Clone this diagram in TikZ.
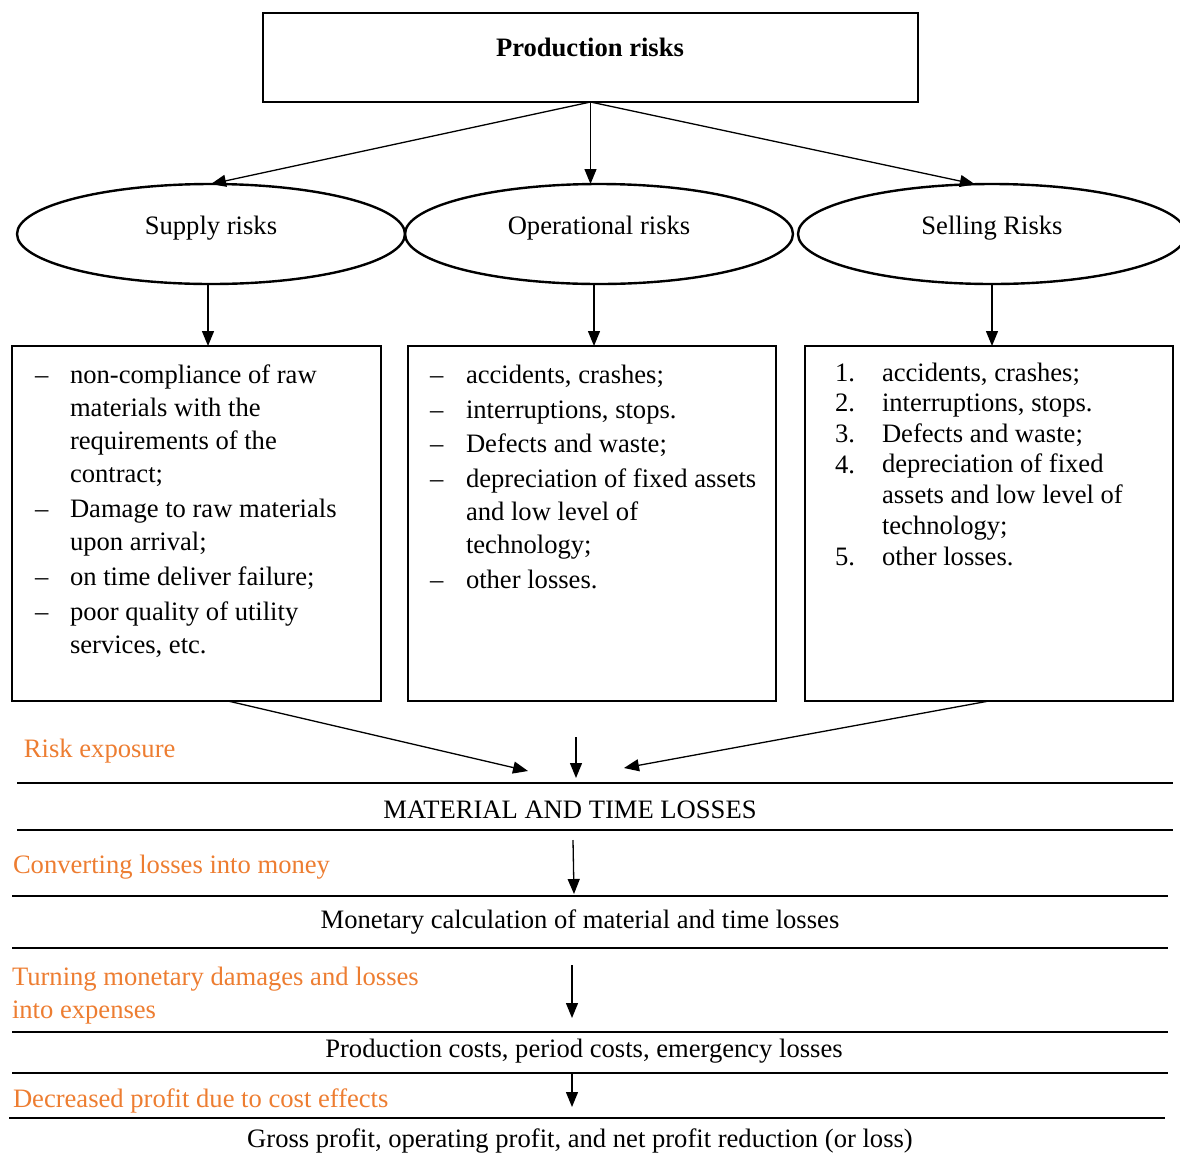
\documentclass[tikz,border=0pt]{standalone}
\usepackage{fontspec}
\setmainfont{Liberation Serif}
\usetikzlibrary{arrows.meta,shapes.geometric}
\definecolor{orng}{RGB}{237,125,49}
\begin{document}
\begin{tikzpicture}[x=0.5pt,y=-0.5pt,
  every node/.style={font=\fontsize{13.3}{16.5}\selectfont, inner sep=0pt, outer sep=0pt},
  txt/.style={anchor=base west, align=left},
  ctr/.style={anchor=base},
  orl/.style={anchor=base west, align=left, text=orng},
  boxx/.style={draw, line width=0.7pt, minimum height=177.5pt},
  ell/.style={draw, ellipse, line width=1.2pt, minimum width=194pt, minimum height=50pt},
  arr/.style={line width=0.65pt, -{Triangle[length=7.5pt,width=6pt]}},
  sepl/.style={line width=1pt}]
\useasboundingbox (0,0) rectangle (1180,1158);

% top box
\node[draw, line width=0.7pt, minimum width=327.5pt, minimum height=44.5pt] (prod) at (590.5,57.5) {};
\node[ctr] (prodt) at (590,56) {\textbf{Production risks}};

% ellipses
\node[ell] (sup) at (211,234) {};
\node[ell] (op) at (599,234) {};
\node[ell] (sel) at (992,234) {};
\node[ctr] (supt) at (211,234) {Supply risks};
\node[ctr] (opt) at (599,234) {Operational risks};
\node[ctr] (selt) at (992,234) {Selling Risks};

\draw[arr] (prod.south) -- (sup.north);
\draw[arr] (prod.south) -- (prod.south |- op.north);
\draw[arr] (prod.south) -- (sel.109);

% boxes
\node[boxx, minimum width=184.5pt] (lbox) at (196.5,523.5) {};
\node[boxx, minimum width=184pt] (mbox) at (592,523.5) {};
\node[boxx, minimum width=184pt] (rbox) at (989,523.5) {};

\draw[arr] ([xshift=-1.5pt]sup.south) -- ([xshift=-1.5pt]sup.south |- lbox.north);
\draw[arr] ([xshift=-2.5pt]op.south) -- ([xshift=-2.5pt]op.south |- mbox.north);
\draw[arr] (sel.south) -- (sel.south |- rbox.north);

% left box items (multi-line nodes are placed by the baseline of their last line)
\node[txt] (l1d) at (35,383) {–};
\node[txt] (l1) at (70,482) {non-compliance of raw\\materials with the\\requirements of the\\contract;};
\node[txt] (l2d) at (35,517) {–};
\node[txt] (l2) at (70,550) {Damage to raw materials\\upon arrival;};
\node[txt] (l3d) at (35,585) {–};
\node[txt] (l3) at (70,585) {on time deliver failure;};
\node[txt] (l4d) at (35,620) {–};
\node[txt] (l4) at (70,653) {poor quality of utility\\services, etc.};

% middle box items
\node[txt] (m1d) at (430,383) {–};
\node[txt] (m1) at (466,383) {accidents, crashes;};
\node[txt] (m2d) at (430,418) {–};
\node[txt] (m2) at (466,418) {interruptions, stops.};
\node[txt] (m3d) at (430,452) {–};
\node[txt] (m3) at (466,452) {Defects and waste;};
\node[txt] (m4d) at (430,487) {–};
\node[txt] (m4) at (466,553) {depreciation of fixed assets\\and low level of\\technology;};
\node[txt] (m5d) at (430,588) {–};
\node[txt] (m5) at (466,588) {other losses.};

% right box items
\node[txt] (r1n) at (835,381) {1.};
\node[txt] (r1) at (882,381) {accidents, crashes;};
\node[txt] (r2n) at (835,411) {2.};
\node[txt] (r2) at (882,411) {interruptions, stops.};
\node[txt] (r3n) at (835,442) {3.};
\node[txt] (r3) at (882,442) {Defects and waste;};
\node[txt] (r4n) at (835,473) {4.};
\node[txt, font=\fontsize{13.3}{15.4}\selectfont] (r4) at (882,534) {depreciation of fixed\\assets and low level of\\technology;};
\node[txt] (r5n) at (835,565) {5.};
\node[txt] (r5) at (882,565) {other losses.};

% converging arrows
\coordinate (tl) at (528,771);
\coordinate (tr) at (624,768);
\coordinate (vs) at (576,737);
\coordinate (ve) at (576,778);
\draw[arr] ([xshift=15.75pt]lbox.south) -- (tl);
\draw[arr] (rbox.south) -- (tr);
\draw[arr] (vs) -- (ve);

\node[orl] (re) at (24,757) {Risk exposure};

% bands
\draw[sepl] (17,783) -- (1173,783);
\node[ctr] (mat) at (570,818) {MATERIAL AND TIME LOSSES};
\draw[sepl] (17,830) -- (1173,830);

\node[orl] (conv) at (13,873) {Converting losses into money};
\coordinate (a1s) at (573,840);
\coordinate (a1e) at (574,894);
\draw[arr] (a1s) -- (a1e);

\draw[sepl] (12,896) -- (1168,896);
\node[ctr] (mon) at (580,928) {Monetary calculation of material and time losses};
\draw[sepl] (12,948) -- (1168,948);

\node[orl] (turn) at (12,1018) {Turning monetary damages and losses\\into expenses};
\coordinate (a2s) at (572,965);
\coordinate (a2e) at (572,1018);
\draw[arr] (a2s) -- (a2e);

\draw[sepl] (12,1032) -- (1168,1032);
\node[ctr] (pc) at (584,1057) {Production costs, period costs, emergency losses};
\draw[sepl] (12,1073) -- (1168,1073);

\node[orl] (dec) at (13,1107) {Decreased profit due to cost effects};
\coordinate (a3s) at (572,1073);
\coordinate (a3e) at (572,1107);
\draw[arr] (a3s) -- (a3e);

\draw[sepl] (9,1118) -- (1165,1118);
\node[ctr] (gp) at (580,1147) {Gross profit, operating profit, and net profit reduction (or loss)};
\end{tikzpicture}
\end{document}
